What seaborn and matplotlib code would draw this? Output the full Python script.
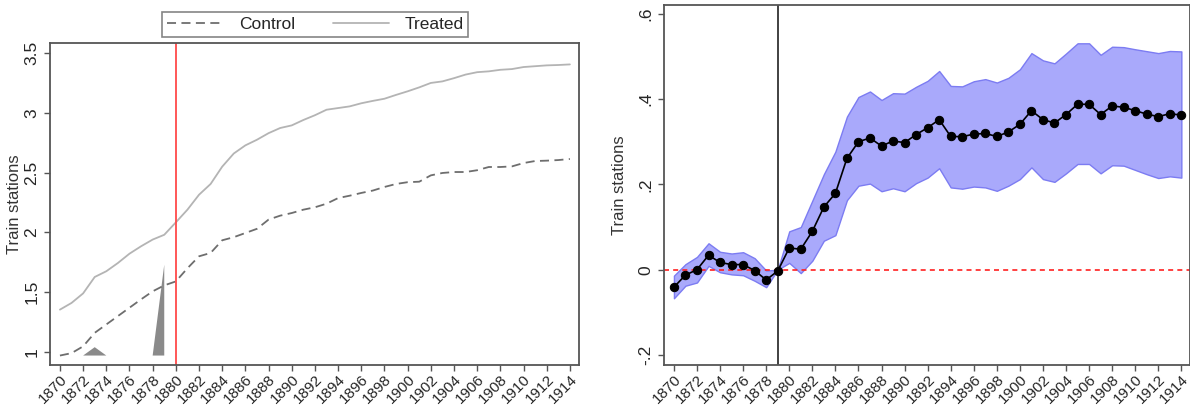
import matplotlib
matplotlib.use("Agg")
import matplotlib.pyplot as plt
import seaborn as sns
import pandas as pd
from matplotlib.lines import Line2D

# Data
years = list(range(1870, 1915))

treated = [1.354, 1.41, 1.49, 1.627, 1.675, 1.744, 1.822, 1.884, 1.94, 1.98,
           2.084, 2.19, 2.315, 2.405, 2.55, 2.66, 2.728, 2.775, 2.83, 2.873,
           2.895, 2.94, 2.98, 3.026, 3.04, 3.054, 3.08, 3.10, 3.118, 3.15,
           3.18, 3.213, 3.25, 3.263, 3.29, 3.32, 3.34, 3.347, 3.36, 3.366,
           3.383, 3.39, 3.397, 3.40, 3.405]

control = [0.97, 0.99, 1.047, 1.16, 1.23, 1.30, 1.37, 1.44, 1.507, 1.557,
           1.59, 1.70, 1.80, 1.828, 1.934, 1.96, 1.995, 2.03, 2.107, 2.14,
           2.162, 2.19, 2.21, 2.24, 2.287, 2.307, 2.33, 2.35, 2.38, 2.405,
           2.42, 2.424, 2.477, 2.497, 2.505, 2.505, 2.52, 2.547, 2.547, 2.552,
           2.58, 2.597, 2.60, 2.605, 2.614]

# grey shapes at the bottom of the left panel
shape1_x = [1872, 1873, 1874]
shape1_y = [0.97, 1.04, 0.97]
shape2_x = [1878, 1879, 1879]
shape2_y = [0.97, 1.73, 0.97]

coef = [-0.041, -0.0125, 0.0, 0.034, 0.017, 0.012, 0.012, -0.002, -0.024, -0.003,
        0.051, 0.048, 0.09, 0.147, 0.179, 0.261, 0.30, 0.309, 0.29, 0.302,
        0.298, 0.317, 0.333, 0.352, 0.3125, 0.312, 0.318, 0.3195, 0.3125, 0.323,
        0.341, 0.373, 0.352, 0.344, 0.364, 0.388, 0.388, 0.364, 0.384, 0.381,
        0.373, 0.365, 0.359, 0.366, 0.3625]

ci_high = [-0.014, 0.013, 0.030, 0.062, 0.042, 0.038, 0.041, 0.027, -0.002, 0.0,
           0.09, 0.10, 0.162, 0.224, 0.277, 0.359, 0.405, 0.418, 0.398, 0.414,
           0.413, 0.429, 0.443, 0.466, 0.431, 0.43, 0.442, 0.447, 0.439, 0.45,
           0.47, 0.508, 0.491, 0.484, 0.507, 0.531, 0.531, 0.504, 0.523, 0.522,
           0.517, 0.5125, 0.508, 0.513, 0.512]

ci_low = [-0.067, -0.0375, -0.03, 0.009, -0.006, -0.011, -0.013, -0.026, -0.041, 0.0,
          0.016, -0.008, 0.021, 0.068, 0.081, 0.163, 0.197, 0.202, 0.184, 0.191,
          0.184, 0.203, 0.216, 0.238, 0.193, 0.19, 0.195, 0.193, 0.185, 0.197,
          0.2125, 0.24, 0.2125, 0.206, 0.226, 0.248, 0.248, 0.226, 0.245, 0.244,
          0.234, 0.224, 0.215, 0.219, 0.216]

xticks = list(range(1870, 1915, 2))

sns.set_style("ticks")
plt.rcParams['font.family'] = ['Liberation Sans', 'DejaVu Sans']

fig = plt.figure(figsize=(11.9, 4.05), dpi=100)
ax1 = fig.add_axes([0.042, 0.0988, 0.4445, 0.795])
ax2 = fig.add_axes([0.558, 0.0988, 0.442, 0.889])

df = pd.DataFrame({'year': years, 'Control': control, 'Treated': treated})

# Left panel
ax1.fill(shape1_x, shape1_y, color='#8a8a8a', lw=0)
ax1.fill(shape2_x, shape2_y, color='#8a8a8a', lw=0)
sns.lineplot(data=df, x='year', y='Control', ax=ax1, color='#6e6e6e',
             linestyle=(0, (5, 3)), lw=1.3)
sns.lineplot(data=df, x='year', y='Treated', ax=ax1, color='#b4b4b4', lw=1.3)
ax1.axvline(1880, color='#ff4a4a', lw=1.3)
ax1.set_xlim(1869.14, 1914.78)
ax1.set_ylim(0.891, 3.584)
ax1.set_yticks([1, 1.5, 2, 2.5, 3, 3.5])
ax1.set_yticklabels(['1', '1.5', '2', '2.5', '3', '3.5'], rotation=90, va='center')

handles = [Line2D([], [], color='#6e6e6e', linestyle=(0, (5, 3)), lw=1.3),
           Line2D([], [], color='#b4b4b4', lw=1.3)]
leg = fig.legend(handles, ['Control', 'Treated'], ncol=2, loc='center',
                 bbox_to_anchor=(0.265, 0.94), fancybox=False, fontsize=12.5,
                 handlelength=3.2, columnspacing=2.2, handletextpad=0.9,
                 borderpad=0.3)
leg.get_frame().set_edgecolor('#666666')
leg.get_frame().set_linewidth(1.2)

# Right panel
df2 = pd.DataFrame({'year': years, 'coef': coef})
ax2.fill_between(years, ci_low, ci_high, color='#a9a9fb', edgecolor='#7c7cf2', lw=1.0)
ax2.axhline(0, color='#ff2020', lw=1.2, linestyle=(0, (3, 2.5)))
ax2.axvline(1879, color='#333333', lw=1.3)
sns.lineplot(data=df2, x='year', y='coef', ax=ax2, color='black', lw=1.2,
             marker='o', markersize=6, markeredgecolor='black')
ax2.set_xlim(1869.14, 1914.75)
ax2.set_ylim(-0.2235, 0.621)
ax2.set_yticks([-0.2, 0, 0.2, 0.4, 0.6])
ax2.set_yticklabels(['-.2', '0', '.2', '.4', '.6'], rotation=90, va='center')

for ax in (ax1, ax2):
    ax.set_xticks(xticks)
    ax.set_xticklabels([str(x) for x in xticks], rotation=45, ha='right',
                       rotation_mode='anchor', fontsize=11)
    ax.tick_params(axis='x', pad=1)
    ax.tick_params(axis='y', labelsize=12.5)
    ax.tick_params(direction='out', length=4, width=1, color='#555555')
    ax.set_xlabel('')
    ax.set_ylabel('Train stations', fontsize=12, color='#333333')
    for s in ax.spines.values():
        s.set_color('#555555')
        s.set_linewidth(1.3)
    ax.grid(False)

ax1.yaxis.set_label_coords(-0.052, 0.5)
ax2.yaxis.set_label_coords(-0.07, 0.5)

fig.savefig('out.png', dpi=100)
